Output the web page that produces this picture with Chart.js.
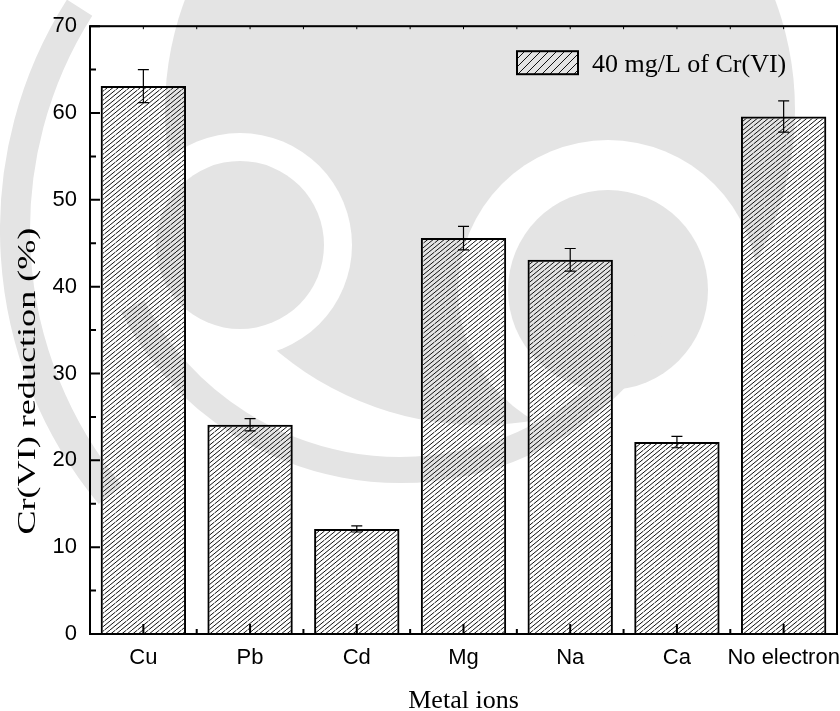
<!DOCTYPE html>
<html>
<head>
<meta charset="utf-8">
<script src="https://cdn.jsdelivr.net/npm/chart.js@4.4.0/dist/chart.umd.min.js"></script>
<style>
  html, body { margin: 0; padding: 0; background: #fff; }
  #wrap { width: 840px; height: 711px; }
</style>
</head>
<body>
<div id="wrap"><canvas id="chart" width="840" height="711"></canvas></div>
<script>
// ---- data ----
const metals = ["Cu", "Pb", "Cd", "Mg", "Na", "Ca", "No electron"];
const reduction = [63.1, 24.1, 12.1, 45.6, 43.1, 22.1, 59.6];
const reductionErr = [1.9, 0.7, 0.35, 1.35, 1.3, 0.65, 1.8];
const yTicks = [0, 10, 20, 30, 40, 50, 60, 70];
const seriesLabel = "40 mg/L of Cr(VI)";
const xTitle = "Metal ions";
const yTitle = "Cr(VI) reduction (%)";

const SANS = "'Liberation Sans', Arial, sans-serif";
const SERIF = "'Liberation Serif', 'Times New Roman', serif";

// diagonal "/" hatch tile holding n parallel strokes
function hatch(w, h, n, lw) {
  const c = document.createElement("canvas");
  c.width = w; c.height = h;
  const g = c.getContext("2d");
  g.strokeStyle = "#111";
  g.lineWidth = lw;
  g.beginPath();
  for (let k = -n; k <= n; k++) {
    const x0 = k * w / n;
    g.moveTo(x0, h);
    g.lineTo(x0 + w, 0);
  }
  g.stroke();
  return g.createPattern(c, "repeat");
}

const barHatch = hatch(11, 9, 2, 1);
const legendHatch = hatch(8, 8, 1, 1);

// faint logo behind the plot
const backdrop = {
  id: "backdrop",
  beforeDraw(chart) {
    const ctx = chart.ctx;
    ctx.save();
    ctx.fillStyle = "#fff";
    ctx.fillRect(0, 0, chart.width, chart.height);
    const grey = "#e4e4e4";
    const disc = (x, y, r, col) => {
      ctx.fillStyle = col;
      ctx.beginPath();
      ctx.arc(x, y, r, 0, Math.PI * 2);
      ctx.fill();
    };
    ctx.strokeStyle = grey;
    // left outer band
    ctx.lineWidth = 30;
    ctx.beginPath();
    ctx.arc(430, 230, 415, Math.PI * 0.78, Math.PI * 1.18);
    ctx.stroke();
    disc(480, 110, 315, grey);
    disc(240, 245, 112, "#fff");
    disc(240, 245, 84, grey);
    disc(608, 290, 150, "#fff");
    disc(608, 290, 100, grey);
    // lower swoosh
    ctx.lineWidth = 26;
    ctx.beginPath();
    ctx.arc(400, 170, 300, Math.PI * 0.18, Math.PI * 0.85);
    ctx.stroke();
    ctx.restore();
  }
};

// frame, inward ticks, error bars, legend and axis titles
const decor = {
  id: "decor",
  afterDatasetsDraw(chart) {
    const ctx = chart.ctx;
    const a = chart.chartArea;
    const xs = chart.scales.x;
    const ys = chart.scales.y;
    ctx.save();

    // error bars
    const meta = chart.getDatasetMeta(0);
    ctx.strokeStyle = "#000";
    ctx.lineWidth = 1.2;
    meta.data.forEach((bar, i) => {
      const top = ys.getPixelForValue(reduction[i] + reductionErr[i]);
      const bot = ys.getPixelForValue(reduction[i] - reductionErr[i]);
      ctx.beginPath();
      ctx.moveTo(bar.x, top); ctx.lineTo(bar.x, bot);
      ctx.moveTo(bar.x - 5.5, top); ctx.lineTo(bar.x + 5.5, top);
      ctx.moveTo(bar.x - 5.5, bot); ctx.lineTo(bar.x + 5.5, bot);
      ctx.stroke();
    });

    // y ticks pointing inward
    ctx.lineWidth = 2;
    ctx.beginPath();
    yTicks.forEach((v, i) => {
      const py = ys.getPixelForValue(v);
      ctx.moveTo(a.left, py); ctx.lineTo(a.left + 10, py);
      if (i < yTicks.length - 1) {
        const pm = ys.getPixelForValue(v + 5);
        ctx.moveTo(a.left, pm); ctx.lineTo(a.left + 6, pm);
      }
    });
    // x ticks: majors at categories, minors between
    metals.forEach((m, i) => {
      const px = xs.getPixelForValue(i);
      ctx.moveTo(px, a.bottom); ctx.lineTo(px, a.bottom - 10);
      if (i < metals.length - 1) {
        const pm = xs.getPixelForValue(i + 0.5);
        ctx.moveTo(pm, a.bottom); ctx.lineTo(pm, a.bottom - 5);
      }
    });
    ctx.stroke();

    // tiny mirrored ticks on the top edge
    ctx.lineWidth = 1;
    ctx.beginPath();
    for (let i = 0; i < metals.length; i += 0.5) {
      const px = xs.getPixelForValue(i);
      ctx.moveTo(px, a.top); ctx.lineTo(px, a.top + 3);
    }
    ctx.stroke();

    // frame
    ctx.lineWidth = 2;
    ctx.strokeRect(a.left, a.top, a.right - a.left, a.bottom - a.top);

    // legend
    const lx = a.right - 320, ly = a.top + 25;
    ctx.fillStyle = legendHatch;
    ctx.fillRect(lx, ly, 61, 23);
    ctx.strokeRect(lx, ly, 61, 23);
    ctx.fillStyle = "#000";
    ctx.font = "26px " + SERIF;
    ctx.textAlign = "left";
    ctx.textBaseline = "alphabetic";
    ctx.fillText(seriesLabel, lx + 75, ly + 21);

    // axis titles
    ctx.textAlign = "center";
    ctx.fillText(xTitle, (a.left + a.right) / 2, chart.height - 3);

    ctx.font = "25px " + SERIF;
    ctx.translate(35, (a.top + a.bottom) / 2 + 51);
    ctx.rotate(-Math.PI / 2);
    const w = ctx.measureText(yTitle).width;
    ctx.scale(307 / w, 1);
    ctx.fillText(yTitle, 0, 0);
    ctx.restore();
  }
};

new Chart(document.getElementById("chart"), {
  type: "bar",
  data: {
    labels: metals,
    datasets: [{
      label: seriesLabel,
      data: reduction,
      backgroundColor: barHatch,
      borderColor: "#000",
      borderWidth: 2,
      barPercentage: 1,
      categoryPercentage: 0.8
    }]
  },
  options: {
    responsive: false,
    animation: false,
    layout: { padding: { top: 25, right: 3 } },
    plugins: {
      legend: { display: false },
      tooltip: { enabled: false }
    },
    scales: {
      x: {
        grid: { display: false, drawTicks: false },
        border: { display: false },
        ticks: {
          color: "#000",
          font: { family: SANS, size: 22 },
          padding: 11,
          autoSkip: false,
          maxRotation: 0
        },
        afterFit: s => { s.height = 77; s.paddingLeft = 0; s.paddingRight = 0; }
      },
      y: {
        min: 0,
        max: 70,
        grid: { display: false, drawTicks: false },
        border: { display: false },
        ticks: { color: "#000", stepSize: 10, font: { family: SANS, size: 22 }, padding: 13 },
        afterFit: s => { s.width = 90; }
      }
    }
  },
  plugins: [backdrop, decor]
});
</script>
</body>
</html>
